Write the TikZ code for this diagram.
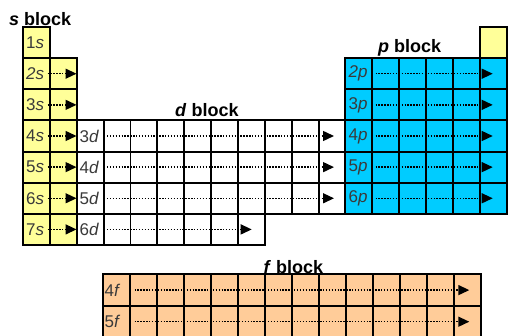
\documentclass[tikz,border=0pt]{standalone}
\usepackage{fontspec}
\setmainfont{Liberation Sans}
\usetikzlibrary{arrows.meta}
\definecolor{syel}{HTML}{FFFF99}
\definecolor{pcyan}{HTML}{00CCFF}
\definecolor{fpeach}{HTML}{FFCC99}
\definecolor{lblgray}{HTML}{3A3A3A}
\tikzset{
  cellS/.style={fill=syel,draw=black,line width=1.9pt},
  cellD/.style={fill=white,draw=black,line width=1.9pt},
  cellP/.style={fill=pcyan,draw=black,line width=1.9pt},
  cellF/.style={fill=fpeach,draw=black,line width=1.9pt},
  lbl/.style={anchor=west,inner sep=0pt,text=lblgray,font=\fontsize{17}{20}\selectfont},
  ttl/.style={anchor=base west,inner sep=0pt,font=\fontsize{18}{21}\selectfont\bfseries},
  fill arrow/.style={line width=1.4pt,dash pattern=on 1.4pt off 1.5pt,
    -{Triangle[length=11pt,width=10pt]}}
}
\begin{document}
\begin{tikzpicture}[x=1pt,y=-1pt]
\useasboundingbox (0,0) rectangle (508,335);
\def\W{26.87}
\def\H{31.14}
% s block
\draw[cellS] (23,27) rectangle ++(\W,\H);
\foreach \r in {2,...,7}{
  \foreach \c in {0,1}{
    \draw[cellS] ({23+\c*\W},{27+(\r-1)*\H}) rectangle ++(\W,\H);
  }
}
% He
\draw[cellS] ({23+17*\W},27) rectangle ++(\W,\H);
% d block
\foreach \r in {4,5,6}{
  \foreach \c in {2,...,11}{
    \draw[cellD] ({23+\c*\W},{27+(\r-1)*\H}) rectangle ++(\W,\H);
  }
}
\foreach \c in {2,...,8}{
  \draw[cellD] ({23+\c*\W},{27+6*\H}) rectangle ++(\W,\H);
}
% p block
\foreach \r in {2,...,6}{
  \foreach \c in {12,...,17}{
    \draw[cellP] ({23+\c*\W},{27+(\r-1)*\H}) rectangle ++(\W,\H);
  }
}
% f block
\foreach \r in {0,1}{
  \foreach \c in {0,...,13}{
    \draw[cellF] ({102.7+\c*27},{274.3+\r*31.6}) rectangle ++(27,31.6);
  }
}
% titles
\node[ttl] (ts) at (9,25) {\textit{s} block};
\node[ttl] (td) at (175,116.7) {\textit{d} block};
\node[ttl] (tp) at (378,52.3) {\textit{p} block};
\node[ttl] (tf) at (263.5,273.5) {\textit{f} block};
% s labels
\node[lbl] (s1) at (26,{27+0.5*\H}) {1\textit{s}};
\node[lbl] (s2) at (26,{27+1.5*\H}) {\textit{2s}};
\node[lbl] (s3) at (26,{27+2.5*\H}) {3\textit{s}};
\node[lbl] (s4) at (26,{27+3.5*\H}) {4\textit{s}};
\node[lbl] (s5) at (26,{27+4.5*\H}) {5\textit{s}};
\node[lbl] (s6) at (26,{27+5.5*\H}) {6\textit{s}};
\node[lbl] (s7) at (26,{27+6.5*\H}) {7\textit{s}};
\foreach \r in {2,...,7}{
  \coordinate (sa\r) at (47.5,{27+(\r-0.5)*\H});
  \coordinate (sb\r) at (76.5,{27+(\r-0.5)*\H});
  \draw[fill arrow] (sa\r) -- (sb\r);
}
% d labels
\node[lbl] (d3) at (79.5,{27+3.5*\H}) {3\textit{d}};
\node[lbl] (d4) at (79.5,{27+4.5*\H}) {4\textit{d}};
\node[lbl] (d5) at (79.5,{27+5.5*\H}) {5\textit{d}};
\node[lbl] (d6) at (79.5,{27+6.5*\H}) {6\textit{d}};
\foreach \r in {4,5,6}{
  \coordinate (da\r) at (107,{27+(\r-0.5)*\H});
  \coordinate (db\r) at (334,{27+(\r-0.5)*\H});
  \draw[fill arrow] (da\r) -- (db\r);
}
\coordinate (da7) at (107,{27+6.5*\H});
\coordinate (db7) at (251.7,{27+6.5*\H});
\draw[fill arrow] (da7) -- (db7);
% p labels
\node[lbl] (p2) at (348.5,{27+1.5*\H}) {\textit{2p}};
\node[lbl] (p3) at (348.5,{27+2.5*\H}) {3\textit{p}};
\node[lbl] (p4) at (348.5,{27+3.5*\H}) {4\textit{p}};
\node[lbl] (p5) at (348.5,{27+4.5*\H}) {5\textit{p}};
\node[lbl] (p6) at (348.5,{27+5.5*\H}) {6\textit{p}};
\foreach \r in {2,...,6}{
  \coordinate (pa\r) at (375.5,{27+(\r-0.5)*\H});
  \coordinate (pb\r) at (492.7,{27+(\r-0.5)*\H});
  \draw[fill arrow] (pa\r) -- (pb\r);
}
% f labels
\node[lbl] (f4) at (104.5,{274.3+0.5*31.6}) {4\textit{f}};
\node[lbl] (f5) at (104.5,{274.3+1.5*31.6}) {5\textit{f}};
\foreach \r in {0,1}{
  \coordinate (fa\r) at (134.5,{274.3+(\r+0.5)*31.6});
  \coordinate (fb\r) at (469.3,{274.3+(\r+0.5)*31.6});
  \draw[fill arrow] (fa\r) -- (fb\r);
}
\end{tikzpicture}
\end{document}
